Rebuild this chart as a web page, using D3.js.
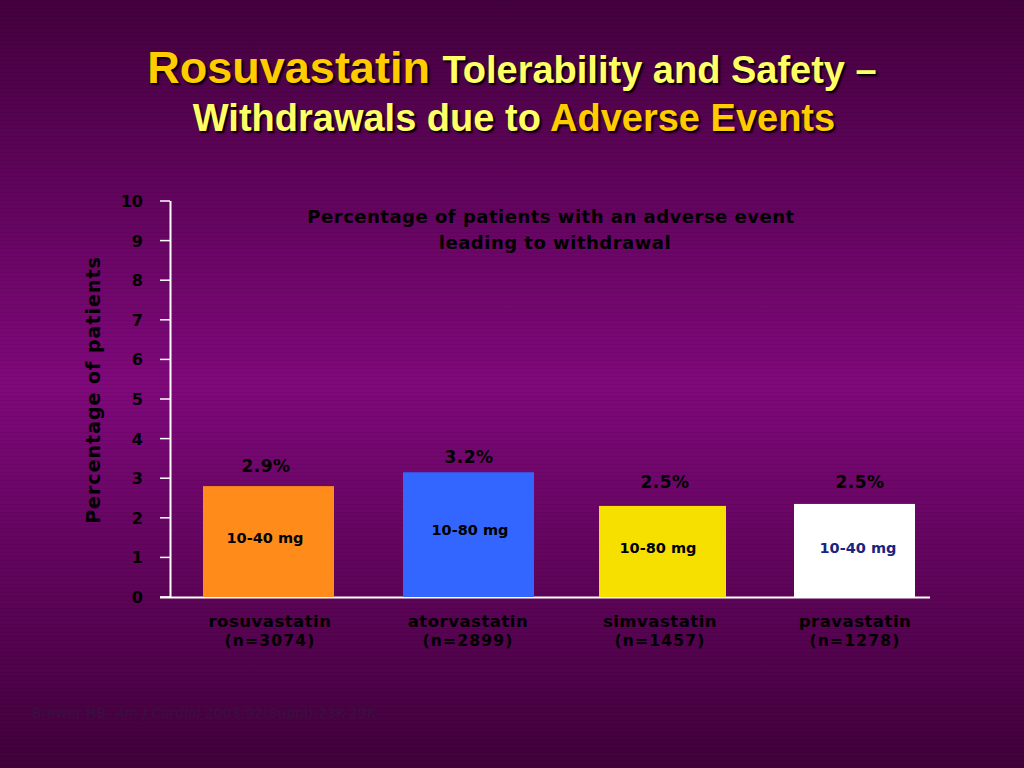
<!DOCTYPE html>
<html><head><meta charset="utf-8">
<script src="https://cdn.jsdelivr.net/npm/d3@7"></script>
<style>body{margin:0;}svg{display:block;}</style>
</head><body>
<svg id="c" width="1024" height="768"></svg>
<script>
const categories = ["rosuvastatin", "atorvastatin", "simvastatin", "pravastatin"];
const nLabels = ["(n=3074)", "(n=2899)", "(n=1457)", "(n=1278)"];
const values = [2.8, 3.15, 2.3, 2.35];
const valueLabels = ["2.9%", "3.2%", "2.5%", "2.5%"];
const doseLabels = ["10-40 mg", "10-80 mg", "10-80 mg", "10-40 mg"];
const colors = ["#ff8c1a", "#3366ff", "#f5e000", "#ffffff"];
const yTicks = [0,1,2,3,4,5,6,7,8,9,10];

const svg = d3.select("#c");
const defs = svg.append("defs");
const g = defs.append("linearGradient").attr("id","bg").attr("x1",0).attr("y1",0).attr("x2",0).attr("y2",1);
g.append("stop").attr("offset","0%").attr("stop-color","#44003e");
g.append("stop").attr("offset","50%").attr("stop-color","#80087c");
g.append("stop").attr("offset","100%").attr("stop-color","#40003a");
svg.append("rect").attr("width",1024).attr("height",768).attr("fill","url(#bg)");
svg.append("g").selectAll("line").data(d3.range(0,768,4)).join("line")
  .attr("x1",0).attr("x2",1024).attr("y1",d=>d+0.5).attr("y2",d=>d+0.5)
  .attr("stroke","#000").attr("stroke-opacity",0.06);

const font = "Arial, 'Liberation Sans', sans-serif";
const vf = "'DejaVu Sans', Verdana, sans-serif";
const t1 = svg.append("text").attr("x",512).attr("y",83).attr("text-anchor","middle")
  .attr("font-family",font).attr("font-weight","bold").attr("font-size",38).attr("fill","#ffff66")
  .style("text-shadow","2px 2px 2px #000");
t1.append("tspan").attr("fill","#ffcc00").attr("font-size",45).text("Rosuvastatin ");
t1.append("tspan").text("Tolerability and Safety –");
const t2 = svg.append("text").attr("x",514).attr("y",131).attr("text-anchor","middle")
  .attr("font-family",font).attr("font-weight","bold").attr("font-size",38).attr("fill","#ffff66")
  .style("text-shadow","2px 2px 2px #000");
t2.append("tspan").text("Withdrawals due to ");
t2.append("tspan").attr("fill","#ffcc00").text("Adverse Events");

const bx = [203,403,599,794], bw = [131,131,127,121];
const y = d3.scaleLinear().domain([0,10]).range([597,201]);

svg.append("line").attr("x1",170.5).attr("x2",170.5).attr("y1",201).attr("y2",597).attr("stroke","#fff").attr("stroke-width",2);
svg.append("line").attr("x1",160).attr("x2",930).attr("y1",597.5).attr("y2",597.5).attr("stroke","#fff").attr("stroke-width",2);
const ty = svg.append("g").selectAll("g").data(yTicks).join("g");
ty.append("line").attr("x1",160).attr("x2",170).attr("y1",d=>y(d)).attr("y2",d=>y(d)).attr("stroke","#fff").attr("stroke-width",1.5);
ty.append("text").attr("x",143).attr("y",d=>y(d)+6).attr("text-anchor","end")
  .attr("font-family",vf).attr("font-weight","bold").attr("font-size",16).attr("fill","#000").text(d=>d);

svg.append("text").attr("transform","translate(100,390) rotate(-90)").attr("text-anchor","middle")
  .attr("font-family",vf).attr("font-weight","bold").attr("font-size",19).attr("fill","#000")
  .attr("letter-spacing",1).text("Percentage of patients");

svg.append("text").attr("x",551).attr("y",223).attr("text-anchor","middle").attr("font-family",vf)
  .attr("font-weight","bold").attr("font-size",18).attr("fill","#000").attr("letter-spacing",0.5)
  .text("Percentage of patients with an adverse event");
svg.append("text").attr("x",555).attr("y",249).attr("text-anchor","middle").attr("font-family",vf)
  .attr("font-weight","bold").attr("font-size",18).attr("fill","#000").attr("letter-spacing",0.5)
  .text("leading to withdrawal");

const bars = svg.append("g").selectAll("g").data(categories).join("g");
bars.append("rect").attr("x",(d,i)=>bx[i]).attr("width",(d,i)=>bw[i])
  .attr("y",(d,i)=>y(values[i])).attr("height",(d,i)=>y(0)-y(values[i])).attr("fill",(d,i)=>colors[i]);
const vx=[266,469,665,860], vy=[472,463,488,488];
bars.append("text").attr("x",(d,i)=>vx[i]).attr("y",(d,i)=>vy[i]).attr("text-anchor","middle")
  .attr("font-family",vf).attr("font-weight","bold").attr("font-size",17).attr("fill","#000").attr("letter-spacing",0.5)
  .text((d,i)=>valueLabels[i]);
const doseY=[543,535,553,553], doseX=[265,470,658,858];
bars.append("text").attr("x",(d,i)=>doseX[i]).attr("y",(d,i)=>doseY[i]).attr("text-anchor","middle")
  .attr("font-family",vf).attr("font-weight","bold").attr("font-size",14.5)
  .attr("fill",(d,i)=>i==3?"#1a237e":"#000").text((d,i)=>doseLabels[i]);
const catX=[270,468,660,855];
bars.append("text").attr("x",(d,i)=>catX[i]).attr("y",627).attr("text-anchor","middle")
  .attr("font-family",vf).attr("font-weight","bold").attr("font-size",16.5).attr("fill","#000").attr("letter-spacing",0.5).text(d=>d);
bars.append("text").attr("x",(d,i)=>catX[i]).attr("y",646).attr("text-anchor","middle")
  .attr("font-family",vf).attr("font-weight","bold").attr("font-size",15.5).attr("fill","#000").attr("letter-spacing",1.2).text((d,i)=>nLabels[i]);

const ft = svg.append("text").attr("x",32).attr("y",718).attr("font-family",vf).attr("font-size",14).attr("fill","#3a1040");
ft.append("tspan").text("Brewer HB. ");
ft.append("tspan").attr("font-style","italic").text("Am J Cardiol");
ft.append("tspan").text(" 2003;92(Suppl):23K-29K");
</script>
</body></html>
